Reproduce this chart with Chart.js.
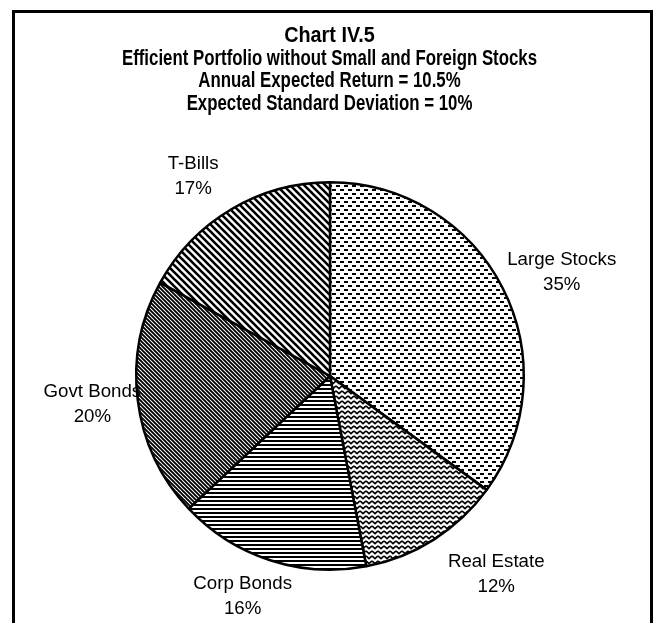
<!DOCTYPE html>
<html>
<head>
<meta charset="utf-8">
<script src="https://cdn.jsdelivr.net/npm/chart.js@4/dist/chart.umd.min.js"></script>
<style>
html,body{margin:0;padding:0;background:#fff;}
#wrap{width:657px;height:623px;}
</style>
</head>
<body>
<div id="wrap"><canvas id="pie"></canvas></div>
<script>
// data
const categories = ['Large Stocks','Real Estate','Corp Bonds','Govt Bonds','T-Bills'];
const weights = [35,12,16,20,17];
const titleLines = ['Chart IV.5','Efficient Portfolio without Small and Foreign Stocks','Annual Expected Return = 10.5%','Expected Standard Deviation = 10%'];

// title is set in a condensed bold face: horizontal squeeze per line
const titleSqueeze = [0.9,0.765,0.765,0.765];

// label placement: distance (x radius) and angle nudge (deg) from slice middle
const labelDist = [1.31,1.335,1.225,1.235,1.25];
const labelNudge = [2.9,-7.6,3.6,0.5,-3.8];

// hatch fills
function tile(w,h,draw){
    const c=document.createElement('canvas'); c.width=w; c.height=h;
    const x=c.getContext('2d');
    x.fillStyle='#fff'; x.fillRect(0,0,w,h);
    x.fillStyle='#000'; x.strokeStyle='#000';
    draw(x,w,h);
    return x.createPattern(c,'repeat');
}
function diag(s,lw){
    return tile(s,s,(x)=>{
        x.lineWidth=lw;
        x.beginPath();
        x.moveTo(-1,-1); x.lineTo(s+1,s+1);
        x.moveTo(-1,s-1); x.lineTo(1,s+1);
        x.moveTo(s-1,-1); x.lineTo(s+1,1);
        x.stroke();
    });
}
const fills = [
    tile(8,8,(x)=>{ x.fillRect(0,1,4,2); x.fillRect(4,5,4,2); }),            // dashes
    tile(6,5,(x)=>{ x.lineWidth=1.7; x.beginPath(); x.moveTo(0,1); x.lineTo(3,3.6); x.lineTo(6,1); x.stroke(); }), // zigzag
    tile(4,4,(x)=>{ x.fillRect(0,0,4,2); }),                                 // horizontal
    diag(4,1.9),                                                             // fine diagonal
    diag(7,2.6)                                                              // wide diagonal
];

// outer frame + title
const framePlugin = {
    id:'frame',
    beforeDraw(chart){
        const ctx=chart.ctx;
        ctx.save();
        ctx.fillStyle='#fff'; ctx.fillRect(0,0,chart.width,chart.height);
        ctx.strokeStyle='#000'; ctx.lineWidth=3;
        ctx.strokeRect(13.5,11.5,638,700);
        ctx.font='bold 22px "Liberation Sans", Arial, sans-serif';
        ctx.fillStyle='#000';
        ctx.textAlign='center';
        ctx.textBaseline='middle';
        titleLines.forEach((t,i)=>{
            ctx.save();
            ctx.translate(chart.width/2+1,36+i*22.5);
            ctx.scale(titleSqueeze[i],1);
            ctx.fillText(t,0,0);
            ctx.restore();
        });
        ctx.restore();
    }
};

// slice labels
const labelPlugin = {
    id:'sliceLabels',
    afterDatasetsDraw(chart){
        const ctx=chart.ctx;
        const arcs=chart.getDatasetMeta(0).data;
        ctx.save();
        ctx.font='18.7px "Liberation Sans", Arial, sans-serif';
        ctx.fillStyle='#000';
        ctx.textAlign='center';
        ctx.textBaseline='middle';
        arcs.forEach((arc,i)=>{
            const p=arc.getProps(['x','y','startAngle','endAngle','outerRadius'],true);
            const mid=(p.startAngle+p.endAngle)/2 + labelNudge[i]*Math.PI/180;
            const d=p.outerRadius*labelDist[i];
            const cx=p.x+Math.cos(mid)*d, cy=p.y+Math.sin(mid)*d;
            ctx.fillText(categories[i],cx,cy-12.5);
            ctx.fillText(weights[i]+'%',cx,cy+12.5);
        });
        ctx.restore();
    }
};

new Chart(document.getElementById('pie'),{
    type:'pie',
    data:{
        labels:categories,
        datasets:[{data:weights,backgroundColor:fills,borderColor:'#000',borderWidth:2.5}]
    },
    options:{
        responsive:true, maintainAspectRatio:false, animation:false,
        layout:{padding:{top:181,bottom:52,left:3,right:0}},
        plugins:{
            legend:{display:false},
            tooltip:{enabled:false},
            title:{display:false}
        }
    },
    plugins:[framePlugin,labelPlugin]
});
</script>
</body>
</html>
